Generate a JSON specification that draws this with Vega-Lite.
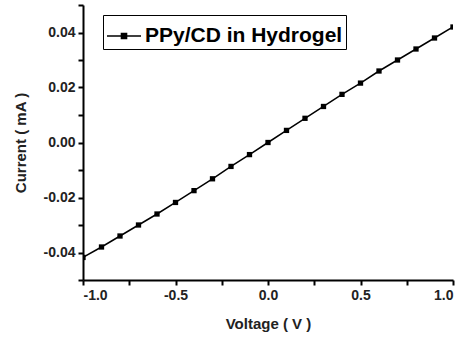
{
  "$schema": "https://vega.github.io/schema/vega-lite/v6.json",
  "width": 370,
  "height": 275,
  "autosize": {"type": "none"},
  "padding": {"left": 83, "top": 5, "right": 18, "bottom": 59},
  "background": "white",
  "config": {
    "view": {"stroke": null},
    "font": "Liberation Sans"
  },
  "data": {
    "values": [
      {"v": -1.0, "i": -0.0418, "s": "PPy/CD in Hydrogel"},
      {"v": -0.9, "i": -0.0380, "s": "PPy/CD in Hydrogel"},
      {"v": -0.8, "i": -0.0340, "s": "PPy/CD in Hydrogel"},
      {"v": -0.7, "i": -0.0300, "s": "PPy/CD in Hydrogel"},
      {"v": -0.6, "i": -0.0260, "s": "PPy/CD in Hydrogel"},
      {"v": -0.5, "i": -0.0218, "s": "PPy/CD in Hydrogel"},
      {"v": -0.4, "i": -0.0175, "s": "PPy/CD in Hydrogel"},
      {"v": -0.3, "i": -0.0132, "s": "PPy/CD in Hydrogel"},
      {"v": -0.2, "i": -0.0087, "s": "PPy/CD in Hydrogel"},
      {"v": -0.1, "i": -0.0044, "s": "PPy/CD in Hydrogel"},
      {"v": 0.0, "i": 0.0000, "s": "PPy/CD in Hydrogel"},
      {"v": 0.1, "i": 0.0044, "s": "PPy/CD in Hydrogel"},
      {"v": 0.2, "i": 0.0088, "s": "PPy/CD in Hydrogel"},
      {"v": 0.3, "i": 0.0131, "s": "PPy/CD in Hydrogel"},
      {"v": 0.4, "i": 0.0175, "s": "PPy/CD in Hydrogel"},
      {"v": 0.5, "i": 0.0216, "s": "PPy/CD in Hydrogel"},
      {"v": 0.6, "i": 0.0260, "s": "PPy/CD in Hydrogel"},
      {"v": 0.7, "i": 0.0300, "s": "PPy/CD in Hydrogel"},
      {"v": 0.8, "i": 0.0340, "s": "PPy/CD in Hydrogel"},
      {"v": 0.9, "i": 0.0380, "s": "PPy/CD in Hydrogel"},
      {"v": 1.0, "i": 0.0420, "s": "PPy/CD in Hydrogel"}
    ]
  },
  "encoding": {
    "x": {
      "field": "v", "type": "quantitative",
      "scale": {"domain": [-1, 1], "nice": false, "zero": false},
      "axis": {
        "title": "Voltage ( V )",
        "values": [-1, -0.75, -0.5, -0.25, 0, 0.25, 0.5, 0.75, 1],
        "labelExpr": "abs(round(datum.value*100)) % 50 == 0 ? replace(format(datum.value, '.1f'), '\u2212', '-') : ''",
        "grid": false,
        "domainColor": "black", "domainWidth": 2,
        "tickColor": "black", "tickWidth": 2, "tickSize": 5,
        "labelFont": "Liberation Sans", "labelFontWeight": "bold", "labelFontSize": 14, "labelColor": "#222",
        "labelPadding": 3,
        "titleFont": "Liberation Sans", "titleFontWeight": "bold", "titleFontSize": 15, "titleColor": "#222",
        "titlePadding": 14
      }
    },
    "y": {
      "field": "i", "type": "quantitative",
      "scale": {"domain": [-0.05, 0.05], "nice": false, "zero": false},
      "axis": {
        "title": "Current ( mA )",
        "values": [-0.05, -0.04, -0.03, -0.02, -0.01, 0, 0.01, 0.02, 0.03, 0.04, 0.05],
        "labelExpr": "abs(round(datum.value*100)) % 2 == 0 ? replace(format(datum.value, '.2f'), '\u2212', '-') : ''",
        "grid": false,
        "domainColor": "black", "domainWidth": 2,
        "tickColor": "black", "tickWidth": 2, "tickSize": 5,
        "labelFont": "Liberation Sans", "labelFontWeight": "bold", "labelFontSize": 14, "labelColor": "#222",
        "labelPadding": 3,
        "titleFont": "Liberation Sans", "titleFontWeight": "bold", "titleFontSize": 15, "titleColor": "#222",
        "titlePadding": 15
      }
    },
    "color": {
      "field": "s", "type": "nominal",
      "scale": {"range": ["black"]},
      "legend": {
        "title": null,
        "orient": "none",
        "legendX": 20,
        "legendY": 10,
        "strokeColor": "black",
        "fillColor": "white",
        "padding": 3,
        "symbolType": "M-1,0H1M-0.15,-0.15H0.15V0.15H-0.15Z",
        "symbolSize": 1156,
        "symbolStrokeWidth": 1.5,
        "symbolStrokeColor": "black",
        "symbolFillColor": "black",
        "labelFont": "Liberation Sans",
        "labelFontWeight": "bold",
        "labelFontSize": 21,
        "labelColor": "black",
        "labelOffset": 3,
        "labelLimit": 400
      }
    }
  },
  "layer": [
    {"mark": {"type": "line", "strokeWidth": 1.5, "clip": true}},
    {"mark": {"type": "point", "shape": "square", "filled": true, "size": 28, "opacity": 1, "clip": true}}
  ]
}
